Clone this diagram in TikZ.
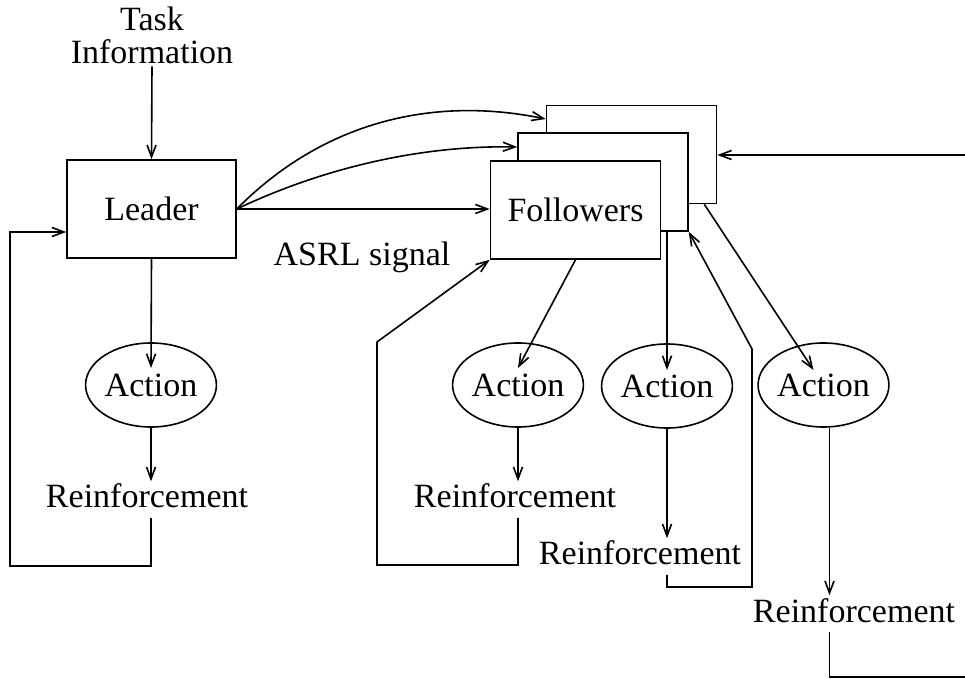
\documentclass[tikz,border=0pt]{standalone}
\usepackage{fontspec}
\setmainfont{Liberation Serif}
\usetikzlibrary{arrows.meta,shapes.geometric}
\begin{document}
\begin{tikzpicture}[x=0.5pt,y=-0.5pt,
  line width=0.8pt,
  every node/.style={font=\fontsize{17}{16.5}\selectfont},
  arr/.style={-{Straight Barb[length=6pt,width=4.5pt,line width=0.8pt]}},
  box/.style={draw,fill=white,rectangle,minimum width=85pt,minimum height=49pt,inner sep=0pt},
  act/.style={draw,ellipse,minimum width=63.5pt,minimum height=42pt,inner sep=0pt},
  rein/.style={inner sep=1pt,text depth=3.5pt,anchor=base}]
\useasboundingbox (0,0) rectangle (965,679);

% nodes
\node[align=center,inner sep=1pt] (task) at (152,35) {Task\\Information};
\node[box,minimum width=84.5pt] (leader) at (151.5,209) {Leader};
\node[act] (act0) at (151,385) {Action};
\node[rein] (rein0) at (147,508) {Reinforcement};

\node[box] (back) at (631.5,154.5) {};
\node[box] (mid) at (603,182) {};
\node[box] (front) at (575.5,210) {Followers};

\node (asrl) at (362,257) {ASRL signal};

\node[act] (act1) at (518,385) {Action};
\node[act] (act2) at (667,386) {Action};
\node[act] (act3) at (823.5,385) {Action};
\node[rein] (rein1) at (515,508) {Reinforcement};
\node[rein] (rein2) at (640,565) {Reinforcement};
\node[rein] (rein3) at (854,622) {Reinforcement};

% helper coordinates
\coordinate (fb0) at (10,566);
\coordinate (fb1) at (377,565);
\coordinate (fb1b) at (377,342);
\coordinate (fb2) at (752,587);
\coordinate (fb2b) at (752,349);
\coordinate (fb3) at (965,677);
\coordinate (in3) at (965,155);
\coordinate (a3s) at ([xshift=3pt]act3.south);

% leader chain
\draw[arr] (task.south) -- (leader.north);
\draw[arr] (leader.south) -- ([yshift=8.5pt]act0.center);
\draw[arr] (act0.south) -- (act0.south |- rein0.north);
\draw[arr] (act0.south |- rein0.south) |- (fb0) |- ([yshift=-11.5pt]leader.west);

% leader to followers
\draw[arr] (leader.east) -- (leader.east -| front.west);
\draw[arr] (leader.east) .. controls +(84,-40) and +(-98,-2) .. ([yshift=17.5pt]mid.west);
\draw[arr] (leader.east) .. controls +(84,-85) and +(-116,-24) .. ([yshift=17.75pt]back.west);

% external input
\draw[arr] (in3) -- (in3 -| back.east);

% follower 1
\draw[arr] (front.south) -- ([yshift=8.5pt]act1.center);
\draw[arr] (act1.south) -- (act1.south |- rein1.north);
\draw[arr] (act1.south |- rein1.south) |- (fb1) -- (fb1b) -- (front.south west);

% follower 2
\draw[arr] (act2.center |- mid.south) -- ([yshift=8pt]act2.center);
\draw[arr] (act2.south) -- (act2.south |- rein2.north);
\draw[arr] (act2.south |- rein2.south) |- (fb2) -- (fb2b) -- (mid.south east);

% follower 3
\draw[arr] ([xshift=-6.5pt]back.south east) -- ([xshift=-5pt,yshift=7.5pt]act3.center);
\draw[arr] (a3s) -- (a3s |- rein3.north);
\draw (a3s |- rein3.south) |- (fb3);
\end{tikzpicture}
\end{document}
